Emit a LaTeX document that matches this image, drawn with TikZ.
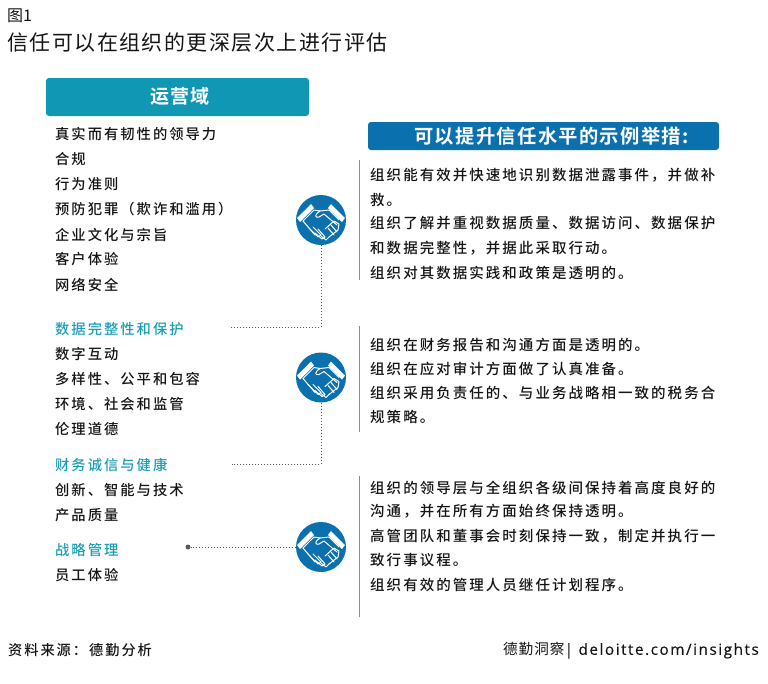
\documentclass[tikz,border=0pt]{standalone}
\usepackage{fontspec}
\setmainfont{Noto Sans CJK SC}
\newfontfamily\bodyfont[LetterSpace=14]{Noto Sans CJK SC Medium}
\newfontfamily\titlefont[LetterSpace=7]{Noto Sans CJK SC}
\newfontfamily\headfont[LetterSpace=7]{Noto Sans CJK SC Bold}
\newfontfamily\brandfont[LetterSpace=10,FakeBold=0.3]{Open Sans}
\usetikzlibrary{positioning}

\definecolor{tealbox}{HTML}{0F97B3}
\definecolor{bluebox}{HTML}{0A70AE}
\definecolor{tealtext}{HTML}{1D9DB5}
\definecolor{inktext}{HTML}{151515}

\tikzset{
  item/.style={anchor=west,inner sep=0pt,yshift=-0.5pt,text=inktext,font=\fontsize{14.3}{14.3}\bodyfont},
  topic/.style={item,text=tealtext},
  action/.style={item,font=\fontsize{14.5}{14.5}\bodyfont},
  rule/.style={draw=black!45,line width=1pt},
  dotline/.style={draw=black!65,line width=1pt,dotted},
  icon/.style={circle,fill=bluebox,minimum size=50pt,inner sep=0pt},
  cuff/.style={fill=white},
  hand/.style={draw=white,line width=1pt,line join=round,line cap=round,fill=none}
}

% px-sized handshake, drawn round the centre of the disc
\newcommand{\handshake}[1]{
  \begin{scope}[shift={(#1)}]
    \fill[cuff] (-24,-2) -- (-10,-16) -- (-7,-12) -- (-21,2) -- cycle;
    \fill[cuff] (10,-16) -- (24,-2) -- (21,2) -- (7,-12) -- cycle;
    \draw[hand] (-18,1) -- (-7,-10) -- (-1,-9) -- (8,-10) -- (18,0);
    \draw[hand] (-1,-9) .. controls (-7,-5) and (-6,-2) .. (-2,-3) -- (3,-6) -- (16,5);
    \draw[hand] (-18,1) -- (-6,15);
    \draw[hand] (-13,7) -- (-3,17) -- (0,15) -- (-8,7);
    \draw[hand] (-6,13) -- (1,19) -- (4,17) -- (-3,9);
    \draw[hand] (0,16) -- (5,20) -- (8,17);
    \draw[hand] (8,17) -- (17,10) -- (18,4) -- (13,1) -- (4,9);
    \draw[hand] (7,8) -- (13,15);
    \draw[hand] (10,5) -- (16,12);
  \end{scope}
}

\begin{document}
\begin{tikzpicture}[x=1pt,y=-1pt]
  \useasboundingbox (0,0) rectangle (768,683);

  % title
  \node [anchor=west,inner sep=0pt,text=inktext,font=\fontsize{16}{16}\selectfont] (fig) at (7,16) {图1};
  \node [anchor=west,inner sep=0pt,yshift=-1pt,text=inktext,font=\fontsize{21}{21}\titlefont] (title) at (7,42)
    {信任可以在组织的更深层次上进行评估};

  % headers
  \node [rounded corners=3pt,fill=tealbox,text=white,minimum width=263pt,minimum height=38pt,
    inner sep=0pt,font=\fontsize{19}{19}\headfont] (domain) at (177.5,97)
    {\hspace*{5pt}\raisebox{3pt}{运营域}};
  \node [rounded corners=3pt,fill=bluebox,text=white,minimum width=351pt,minimum height=28pt,
    inner sep=0pt,font=\fontsize{19.3}{19.3}\headfont] (measures) at (543.5,136)
    {\hspace*{16pt}可以提升信任水平的示例举措:};

  % left column
  \node [item] (l1) at (55,134) {真实而有韧性的领导力};
  \node [item] (l2) at (55,159) {合规};
  \node [item] (l3) at (55,184) {行为准则};
  \node [item] (l4) at (55,209) {预防犯罪（欺诈和滥用）};
  \node [item] (l5) at (55,234) {企业文化与宗旨};
  \node [item] (l6) at (55,259) {客户体验};
  \node [item] (l7) at (55,284) {网络安全};
  \node [topic] (l8) at (55,329) {数据完整性和保护};
  \node [item] (l9) at (55,354) {数字互动};
  \node [item] (l10) at (55,379) {多样性、公平和包容};
  \node [item] (l11) at (55,404) {环境、社会和监管};
  \node [item] (l12) at (55,429) {伦理道德};
  \node [topic] (l13) at (55,465) {财务诚信与健康};
  \node [item] (l14) at (55,490) {创新、智能与技术};
  \node [item] (l15) at (55,515) {产品质量};
  \node [topic] (l16) at (55,550) {战略管理};
  \node [item] (l17) at (55,575) {员工体验};

  % right column
  \node [action] (r1) at (370,175) {组织能有效并快速地识别数据泄露事件，并做补};
  \node [action] (r2) at (370,199) {救。};
  \node [action] (r3) at (370,223) {组织了解并重视数据质量、数据访问、数据保护};
  \node [action] (r4) at (370,248) {和数据完整性，并据此采取行动。};
  \node [action] (r5) at (370,272) {组织对其数据实践和政策是透明的。};
  \node [action] (r6) at (370,344) {组织在财务报告和沟通方面是透明的。};
  \node [action] (r7) at (370,368) {组织在应对审计方面做了认真准备。};
  \node [action] (r8) at (370,392) {组织采用负责任的、与业务战略相一致的税务合};
  \node [action] (r9) at (370,416) {规策略。};
  \node [action] (r10) at (370,487) {组织的领导层与全组织各级间保持着高度良好的};
  \node [action] (r11) at (370,511) {沟通，并在所有方面始终保持透明。};
  \node [action] (r12) at (370,536) {高管团队和董事会时刻保持一致，制定并执行一};
  \node [action] (r13) at (370,560) {致行事议程。};
  \node [action] (r14) at (370,584) {组织有效的管理人员继任计划程序。};

  % rules beside the right column
  \coordinate (t1) at (359.5,160);
  \coordinate (b1) at (359.5,280);
  \coordinate (t2) at (359.5,326);
  \coordinate (b2) at (359.5,432);
  \coordinate (t3) at (359.5,476);
  \coordinate (b3) at (359.5,617);
  \draw[rule] (t1) -- (b1);
  \draw[rule] (t2) -- (b2);
  \draw[rule] (t3) -- (b3);

  % icons
  \node [icon] (hs1) at (321,220) {};
  \node [icon] (hs2) at (321,377.5) {};
  \node [icon] (hs3) at (321,547) {};
  \handshake{hs1.center}
  \handshake{hs2.center}
  \handshake{hs3.center}

  % dotted leaders
  \coordinate (e1) at (321,327.5);
  \coordinate (s1) at (231,327.5);
  \coordinate (e2) at (321,464);
  \coordinate (s2) at (232,464);
  \draw[dotline] (hs1.south) -- (e1) -- (s1);
  \draw[dotline] (hs2.south) -- (e2) -- (s2);
  \node [anchor=center,circle,fill=black!65,inner sep=0pt,minimum size=5pt] (d3) at (188,547) {};
  \draw[dotline] (hs3.west) -- (d3);

  % footer
  \node [item,font=\fontsize{14.2}{14.2}\bodyfont] (src) at (8,650) {资料来源：德勤分析};
  \node [item,anchor=east,font=\fontsize{15.3}{15.3}\brandfont] (brand) at (759,650)
    {{\fontsize{14.6}{14.6}\titlefont 德勤洞察}| deloitte.com/insights};
\end{tikzpicture}
\end{document}
